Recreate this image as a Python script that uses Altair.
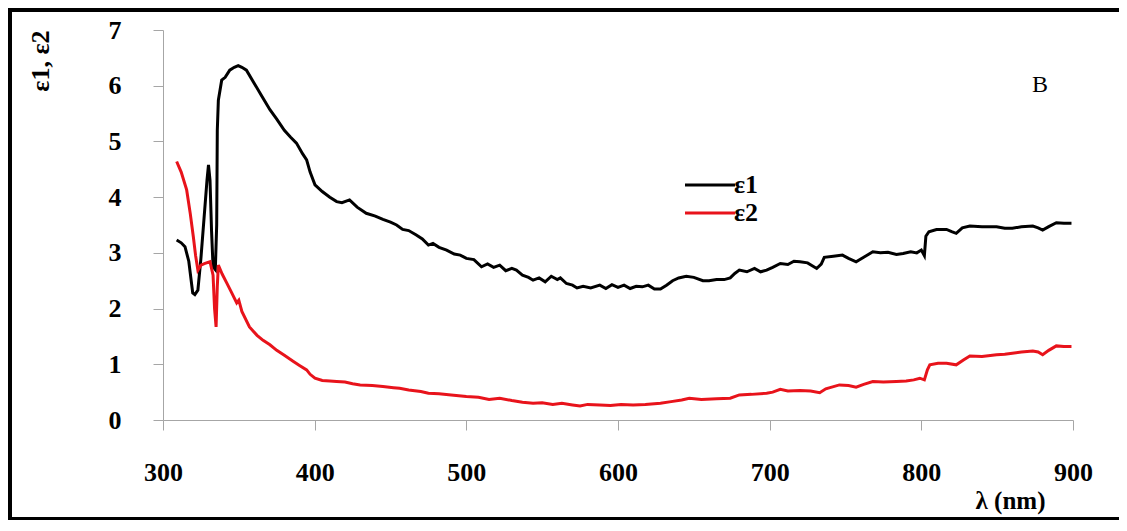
import altair as alt
import pandas as pd

# ---- data ----
wl1 = [309, 312, 314.5, 317, 319.6, 321, 323, 325, 327, 329, 330, 331, 332, 333, 334.5, 335.4, 335.8,
       336.5, 338.7, 341, 344, 347, 349.6, 352, 355, 360, 365, 370.5, 375, 380, 384, 388, 392, 394.7,
       397, 400.2, 405, 410, 414.5, 418, 423, 428, 434, 440, 445, 450, 454, 458, 462, 467, 471, 475,
       478, 482, 487, 492, 496, 500, 505, 510, 514, 518, 522, 526, 530, 533, 537, 541, 544, 548, 552,
       556, 560, 562, 566, 570, 573, 577, 582, 588, 592, 596, 600, 604, 608, 612, 616, 620, 624, 628,
       632, 636, 640, 645, 650, 656, 660, 665, 670, 674, 677, 680, 685, 690, 694, 698, 702, 707, 712,
       716, 720, 725, 731, 734, 736, 742, 748, 752, 757, 762, 768, 773, 778, 783.6, 788, 793, 797, 800,
       802, 803, 805, 810, 816.6, 820, 823, 827, 832, 840, 849.6, 855, 860, 866, 873.5, 877, 880, 884,
       889, 894, 899]
eps1 = [3.23, 3.18, 3.11, 2.85, 2.28, 2.25, 2.33, 2.9, 3.6, 4.3, 4.58, 4.3, 3.4, 2.75, 2.7, 3.5, 5.2,
        5.74, 6.1, 6.15, 6.28, 6.33, 6.36, 6.33, 6.28, 6.05, 5.82, 5.57, 5.4, 5.2, 5.08, 4.97, 4.78, 4.67,
        4.45, 4.22, 4.1, 4.0, 3.92, 3.9, 3.95, 3.82, 3.71, 3.66, 3.6, 3.55, 3.5, 3.42, 3.4, 3.32, 3.25, 3.14,
        3.17, 3.1, 3.05, 2.98, 2.96, 2.9, 2.88, 2.75, 2.8, 2.74, 2.78, 2.68, 2.72, 2.69, 2.6, 2.56, 2.51, 2.55, 2.48,
        2.58, 2.52, 2.55, 2.45, 2.42, 2.37, 2.4, 2.37, 2.42, 2.36, 2.43, 2.38, 2.42, 2.36, 2.4, 2.39, 2.42, 2.35, 2.35,
        2.42, 2.5, 2.55, 2.58, 2.56, 2.5, 2.5, 2.52, 2.52, 2.55, 2.63, 2.69, 2.66, 2.72, 2.66, 2.69, 2.74, 2.81, 2.79,
        2.85, 2.84, 2.82, 2.72, 2.8, 2.92, 2.94, 2.96, 2.9, 2.84, 2.92, 3.02, 3.0, 3.01, 2.97, 2.99, 3.02, 3.0, 3.05,
        2.95, 3.3, 3.38, 3.42, 3.42, 3.38, 3.35, 3.45, 3.48, 3.47, 3.47, 3.44, 3.44, 3.47, 3.48, 3.45, 3.41, 3.47,
        3.54, 3.53, 3.53]

wl2 = [309, 312, 315.6, 318, 320, 321.5, 323, 325, 327.7, 331, 333, 334, 335, 335.8, 336.5, 339, 342, 345,
       348.6, 350, 352, 357, 362, 366, 370.5, 375, 380, 386, 390, 394.7, 397, 400.2, 405, 410, 414.5, 420,
       425, 430, 438, 445, 452, 456, 462, 470, 475, 482, 490, 500, 508, 515, 522, 530, 537, 544, 550, 557,
       563, 570, 575, 580, 588, 595, 602, 610, 618, 628, 635, 642, 647, 655, 665, 674, 680, 688, 698, 702,
       707, 712, 720, 727, 733, 737, 746, 752, 757, 762, 768, 775, 783.6, 790, 795, 799, 802, 804, 805.6,
       811, 816.6, 823, 828, 832, 840, 849.6, 855, 860, 866, 873.5, 877, 880, 884, 889, 894, 899]
eps2 = [4.64, 4.45, 4.13, 3.7, 3.29, 2.95, 2.69, 2.78, 2.81, 2.84, 2.6, 2.0, 1.67, 2.4, 2.78, 2.62, 2.46, 2.3,
        2.1, 2.15, 1.95, 1.67, 1.52, 1.43, 1.35, 1.25, 1.16, 1.05, 0.98, 0.9, 0.82, 0.75, 0.71, 0.7, 0.69, 0.68,
        0.65, 0.63, 0.62, 0.6, 0.58, 0.57, 0.54, 0.51, 0.48, 0.47, 0.45, 0.42, 0.41, 0.37, 0.39, 0.35, 0.32, 0.3, 0.31, 0.28,
        0.3, 0.27, 0.25, 0.28, 0.27, 0.26, 0.28, 0.27, 0.28, 0.3, 0.33, 0.36, 0.39, 0.37, 0.38, 0.39, 0.45, 0.46, 0.48, 0.5,
        0.55, 0.52, 0.53, 0.52, 0.49, 0.56, 0.63, 0.62, 0.59, 0.64, 0.69, 0.68, 0.69, 0.7, 0.72, 0.75, 0.72, 0.9, 0.99,
        1.02, 1.02, 0.99, 1.08, 1.15, 1.14, 1.17, 1.18, 1.2, 1.22, 1.24, 1.22, 1.17, 1.25, 1.33, 1.32, 1.32]

series_names = ["ε1", "ε2"]
series_colors = ["#000000", "#e8131b"]
x_ticks = [300, 400, 500, 600, 700, 800, 900]
y_ticks = [0, 1, 2, 3, 4, 5, 6, 7]

df = pd.concat([
    pd.DataFrame({"wl": wl1, "val": eps1, "series": series_names[0]}),
    pd.DataFrame({"wl": wl2, "val": eps2, "series": series_names[1]}),
])

FONT = "Liberation Serif"
W, H = 910, 390

lines = alt.Chart(df).mark_line(strokeWidth=3).encode(
    x=alt.X("wl:Q", scale=alt.Scale(domain=[300, 900], nice=False),
            axis=alt.Axis(values=x_ticks, title="λ (nm)", titleX=847, titleY=80,
                          titleAlign="center", titleBaseline="middle", titleFontSize=25,
                          labelPadding=29, labelFlush=False, format="d")),
    y=alt.Y("val:Q", scale=alt.Scale(domain=[0, 7], nice=False),
            axis=alt.Axis(values=y_ticks, title="ε1, ε2", titleX=-123, titleY=0,
                          titleAlign="right", titleBaseline="middle", titleAngle=270,
                          labelPadding=32, labelFlush=False)),
    color=alt.Color("series:N",
                    scale=alt.Scale(domain=series_names, range=series_colors),
                    legend=alt.Legend(title=None, orient="none", legendX=534, legendY=142,
                                      symbolType="M-2.5,0H2.5", symbolSize=400, symbolStrokeWidth=3,
                                      symbolFillColor="transparent",
                                      labelFont=FONT, labelFontSize=26, labelFontWeight="bold",
                                      labelColor="#000", rowPadding=2, labelOffset=11)),
)

one = pd.DataFrame({"k": [0]})
border_left = alt.Chart(one).mark_rule(stroke="#000", strokeWidth=4, clip=False).encode(
    x=alt.value(-153), y=alt.value(-22), y2=alt.value(491))
border_top = alt.Chart(one).mark_rule(stroke="#000", strokeWidth=4, clip=False).encode(
    x=alt.value(-155), x2=alt.value(1000), y=alt.value(-20))
border_bottom = alt.Chart(one).mark_rule(stroke="#000", strokeWidth=4, clip=False).encode(
    x=alt.value(-155), x2=alt.value(1000), y=alt.value(489))

label_b = alt.Chart(pd.DataFrame({"t": ["B"]})).mark_text(
    font=FONT, fontSize=24, color="#000", align="center", baseline="middle"
).encode(x=alt.value(877), y=alt.value(55), text="t:N")

chart = alt.layer(border_left, border_top, border_bottom, lines, label_b).properties(
    width=W, height=H,
    autosize=alt.AutoSizeParams(type="none"),
    padding={"left": 155, "top": 22, "right": 46, "bottom": 100},
).configure_view(stroke=None).configure_axis(
    grid=False, domainColor="#a6a6a6", tickColor="#a6a6a6", tickSize=10,
    labelFont=FONT, labelFontSize=26, labelFontWeight="bold", labelColor="#000",
    titleFont=FONT, titleFontSize=26, titleFontWeight="bold", titleColor="#000",
)

chart.save("out.html", embed_options={"renderer": "svg", "actions": False})
